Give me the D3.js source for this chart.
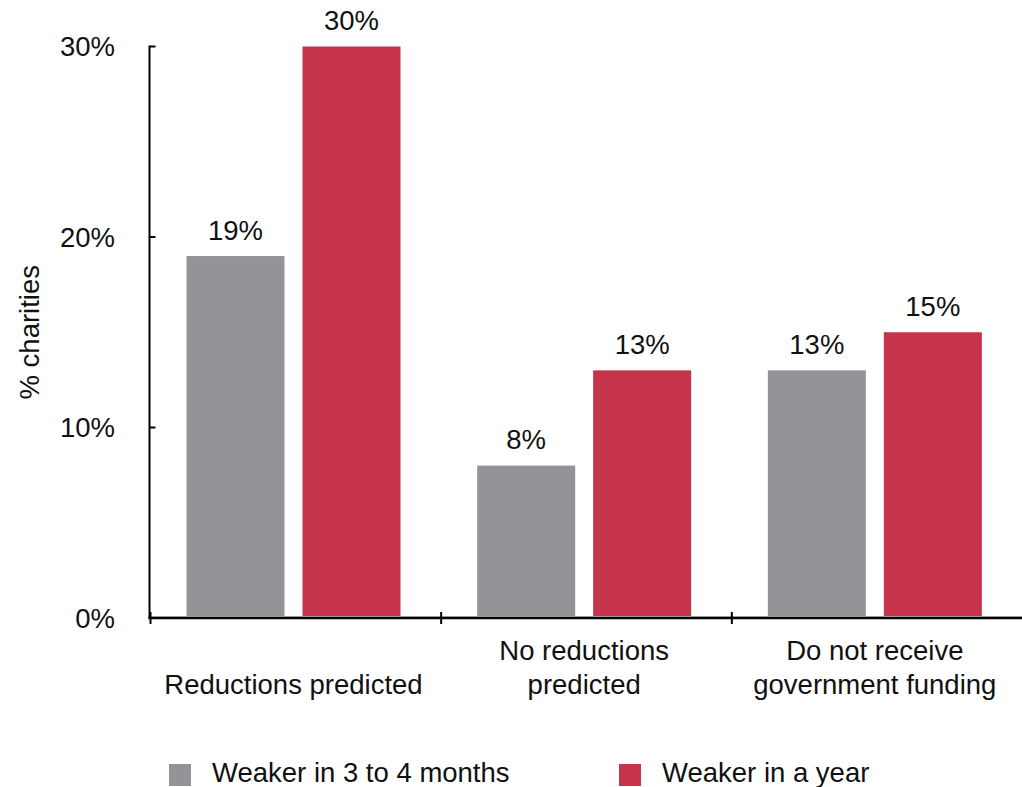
<!DOCTYPE html>
<html>
<head>
<meta charset="utf-8">
<script src="https://cdn.jsdelivr.net/npm/d3@7"></script>
<style>
  html, body { margin: 0; padding: 0; background: #fff; }
  svg { display: block; font-family: "Liberation Sans", Arial, Helvetica, sans-serif; }
</style>
</head>
<body>
<svg id="chart" width="1022" height="787"></svg>
<script>
// ---- data ----
const categories = ["Reductions predicted", "No reductions predicted", "Do not receive government funding"];
const categoryLines = [["Reductions predicted"], ["No reductions", "predicted"], ["Do not receive", "government funding"]];
const seriesNames = ["Weaker in 3 to 4 months", "Weaker in a year"];
const weaker3to4Months = [19, 8, 13];
const weakerInAYear = [30, 13, 15];
const yTicks = [0, 10, 20, 30];
const seriesColors = ["#929497", "#C5344A"];

const seriesValues = [weaker3to4Months, weakerInAYear];

const svg = d3.select("#chart");
const fontSize = 27.5;

const x0 = d3.scaleBand().domain(categories).range([150, 1022]).paddingInner(0).paddingOuter(0);
const x1 = d3.scaleBand().domain(seriesNames).range([36.5, 250.5]).paddingInner(0.155).paddingOuter(0);
const y = d3.scaleLinear().domain([0, 30]).range([618, 46.5]);

// bars
const groups = svg.selectAll("g.cat").data(categories).enter().append("g")
  .attr("class", "cat")
  .attr("transform", d => `translate(${x0(d)},0)`);

groups.each(function(cat, ci) {
  const g = d3.select(this);
  seriesNames.forEach((s, si) => {
    const v = seriesValues[si][ci];
    g.append("rect")
      .attr("x", x1(s))
      .attr("y", y(v))
      .attr("width", x1.bandwidth())
      .attr("height", y(0) - y(v) - 1)
      .attr("fill", seriesColors[si]);
    g.append("text")
      .attr("x", x1(s) + x1.bandwidth() / 2)
      .attr("y", y(v) - 16.5)
      .attr("text-anchor", "middle")
      .attr("font-size", fontSize)
      .attr("fill", "#111")
      .text(v + "%");
  });
});

// faint baseline
svg.append("line")
  .attr("x1", 150).attr("x2", 1022)
  .attr("y1", y(0) - 1.5).attr("y2", y(0) - 1.5)
  .attr("stroke", "#c8c8c8").attr("stroke-width", 1);

// y axis
const yAxis = svg.append("g").attr("transform", "translate(149.5,0)");
yAxis.append("line").attr("x1", 0).attr("x2", 0).attr("y1", y(30) - 1).attr("y2", y(0) + 1)
  .attr("stroke", "#000").attr("stroke-width", 2);
yTicks.forEach(t => {
  yAxis.append("line").attr("x1", 0).attr("x2", 6).attr("y1", y(t)).attr("y2", y(t))
    .attr("stroke", "#000").attr("stroke-width", 2);
  yAxis.append("text").attr("x", -34.5).attr("y", y(t)).attr("dy", "0.36em")
    .attr("text-anchor", "end").attr("font-size", fontSize).attr("fill", "#111")
    .text(t + "%");
});

// x axis
const xAxis = svg.append("g");
xAxis.append("line").attr("x1", 148.5).attr("x2", 1022).attr("y1", y(0)).attr("y2", y(0))
  .attr("stroke", "#000").attr("stroke-width", 2.5);
categories.forEach(c => {
  xAxis.append("line").attr("x1", x0(c) + 0.5).attr("x2", x0(c) + 0.5)
    .attr("y1", y(0) - 6).attr("y2", y(0) + 6)
    .attr("stroke", "#000").attr("stroke-width", 2);
});
categories.forEach((c, ci) => {
  const lines = categoryLines[ci];
  const cx = x0(c) + (x1.range()[0] + x1.range()[1]) / 2;
  const t = xAxis.append("text").attr("text-anchor", "middle")
    .attr("font-size", fontSize).attr("fill", "#111");
  lines.forEach((ln, li) => {
    t.append("tspan").attr("x", cx)
      .attr("y", 694 - (lines.length - 1 - li) * 34)
      .text(ln);
  });
});

// y axis title
svg.append("text")
  .attr("transform", `translate(39,${(y(0) + y(30)) / 2}) rotate(-90)`)
  .attr("text-anchor", "middle")
  .attr("font-size", fontSize).attr("fill", "#111")
  .text("% charities");

// legend
const legendX = [169, 619];
seriesNames.forEach((s, si) => {
  svg.append("rect").attr("x", legendX[si]).attr("y", 764).attr("width", 22).attr("height", 22)
    .attr("fill", seriesColors[si]);
  svg.append("text").attr("x", legendX[si] + 43).attr("y", 782)
    .attr("font-size", fontSize).attr("fill", "#111").text(s);
});
</script>
</body>
</html>
